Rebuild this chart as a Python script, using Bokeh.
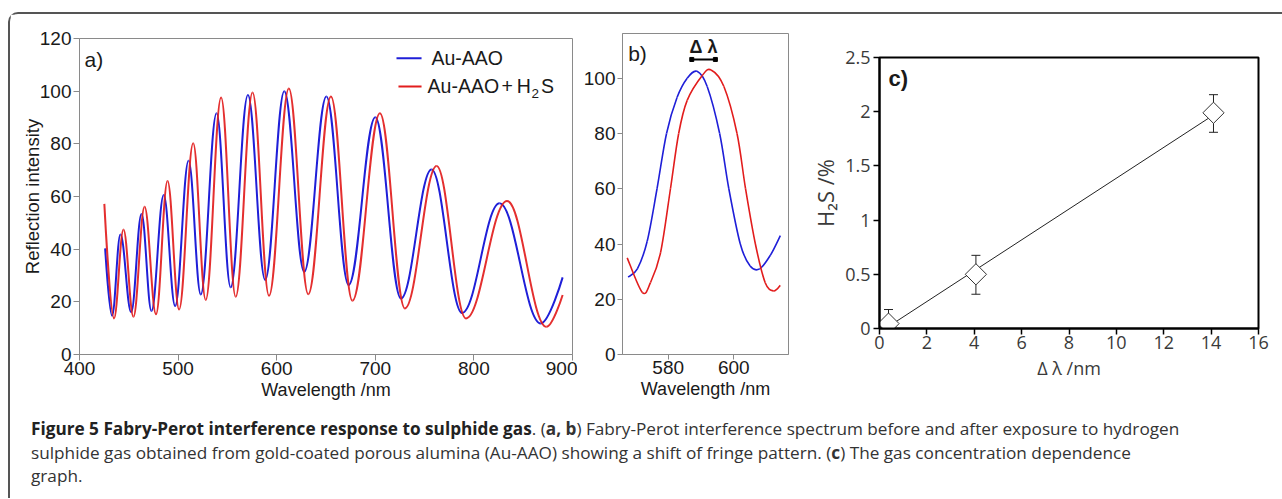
import numpy as np
from bokeh.plotting import figure
from bokeh.layouts import row, column
from bokeh.models import Range1d, FixedTicker, Label, Whisker, TeeHead, ColumnDataSource, Div
from bokeh.embed import file_html
from bokeh.resources import INLINE

# ---------------- data ----------------
# Panel a: turning points (plus first/last sample) of each spectrum
a_blue_nm = [426, 433, 441.5, 452.4, 462.9, 473, 485.4, 497, 510.6, 523, 539, 553.3, 570.8,
             588.3, 607.7, 627.9, 650.4, 672.9, 700, 726, 757, 788, 826, 867.8, 890]
a_blue_int = [40.3, 14.7, 45.6, 16.0, 53.4, 16.5, 60.6, 18.4, 73.6, 22.8, 91.6, 25.5, 98.5,
              28.3, 100.0, 31.4, 98.0, 26.4, 90.1, 21.3, 70.3, 15.8, 57.4, 11.8, 29.3]
a_red_nm = [425.2, 435, 444.6, 454.7, 466, 477.6, 489.3, 501, 515.3, 528, 543.6, 558.4, 575.5,
            592.2, 612.3, 632, 655, 676.8, 704.7, 730, 762.2, 792, 833.6, 873.6, 890]
a_red_int = [57.2, 13.7, 47.5, 14.3, 56.1, 15.3, 65.9, 17.1, 80.2, 20.7, 97.6, 21.9, 99.5,
             22.3, 101.0, 22.9, 98.0, 20.4, 91.6, 17.5, 71.6, 13.7, 58.3, 10.5, 22.6]
a_xticks = [400, 500, 600, 700, 800, 900]
a_yticks = [0, 20, 40, 60, 80, 100, 120]

# Panel b: zoom on one fringe
b_blue_nm = [567.8, 570.6, 573.6, 576.6, 579.5, 582.7, 585.8, 588.8, 591.9, 595.7, 598.5,
             602.0, 605.0, 607.9, 611.2, 614.2]
b_blue_int = [28, 31, 41, 60, 80, 93, 100, 102.5, 97, 80, 60, 40, 32, 31, 36, 43]
b_red_nm = [567.5, 572.1, 574.6, 577.7, 580.7, 583.2, 585.8, 590.4, 593.1, 597.0, 601.0,
            603.6, 606.6, 609.6, 612.2, 614.2]
b_red_int = [35, 22.5, 26, 37, 60, 80, 92, 101, 103, 97, 80, 60, 40, 26, 23, 25]
b_shift_bar_nm = [587.2, 594.4]
b_shift_bar_int = 106.8
b_xticks = [580, 600]
b_yticks = [0, 20, 40, 60, 80, 100]

# Panel c: concentration vs shift
c_shift = [0.38, 4.07, 14.1]
c_conc = [0.045, 0.50, 1.99]
c_err_low = [0.0, 0.316, 1.81]
c_err_high = [0.175, 0.675, 2.157]
c_fit_slope = 0.1422
c_fit_intercept = -0.0356
c_xticks = [0, 2, 4, 6, 8, 10, 12, 14, 16]
c_yticks = [0, 0.5, 1, 1.5, 2, 2.5]
c_ytick_labels = ["0", "0.5", "1", "1.5", "2", "2.5"]

BLUE = "#1f1fd8"
RED = "#e21d1d"
ARIAL = "Liberation Sans"


def style_axes(p, font, size, color, line_color, tick_out, line_w=1):
    for ax in (p.xaxis, p.yaxis):
        ax.axis_line_color = line_color
        ax.axis_line_width = line_w
        ax.major_tick_line_color = line_color
        ax.major_tick_line_width = line_w if line_w < 2 else 1.5
        ax.major_tick_out = tick_out
        ax.major_tick_in = 0
        ax.minor_tick_line_color = None
        ax.major_label_text_font = font
        ax.major_label_text_font_size = size
        ax.major_label_text_color = color
        ax.axis_label_text_font = font
        ax.axis_label_text_font_style = "normal"
        ax.axis_label_text_color = color
    p.grid.visible = False
    p.background_fill_color = "white"
    p.border_fill_color = "white"


def extrema_segments(xs, ys, k=0.38):
    """Bezier pieces between turning points (flat tangents at the turning points)."""
    x = np.asarray(xs, float)
    y = np.asarray(ys, float)
    x0, x1, y0, y1 = x[:-1], x[1:], y[:-1], y[1:]
    dx = x1 - x0
    cx0 = x0 + dx * k
    cy0 = y0.copy()
    cx1 = x1 - dx * k
    cy1 = y1.copy()
    cx0[0], cy0[0] = x0[0], y0[0]
    cx1[-1], cy1[-1] = x1[-1], y1[-1]
    return dict(x0=x0, y0=y0, x1=x1, y1=y1, cx0=cx0, cy0=cy0, cx1=cx1, cy1=cy1)


def through_segments(xs, ys):
    """Bezier pieces passing through every read point (Catmull-Rom tangents)."""
    x = np.asarray(xs, float)
    y = np.asarray(ys, float)
    xp = np.concatenate([[x[0]], x, [x[-1]]])
    yp = np.concatenate([[y[0]], y, [y[-1]]])
    n = len(x) - 1
    cx0 = x[:-1] + (xp[2:n + 2] - xp[0:n]) / 6
    cy0 = y[:-1] + (yp[2:n + 2] - yp[0:n]) / 6
    cx1 = x[1:] - (xp[3:n + 3] - xp[1:n + 1]) / 6
    cy1 = y[1:] - (yp[3:n + 3] - yp[1:n + 1]) / 6
    return dict(x0=x[:-1], y0=y[:-1], x1=x[1:], y1=y[1:], cx0=cx0, cy0=cy0, cx1=cx1, cy1=cy1)


BZ = dict(x0="x0", y0="y0", x1="x1", y1="y1", cx0="cx0", cy0="cy0", cx1="cx1", cy1="cy1")

# ---------------- panel a ----------------
pa = figure(width=567, height=394, x_range=Range1d(400, 900), y_range=Range1d(0, 120),
            output_backend="svg", toolbar_location=None,
            min_border_left=69, min_border_right=5, min_border_top=24, min_border_bottom=54)
style_axes(pa, ARIAL, "19px", "#1a1a1a", "#8a8a8a", 6)
pa.outline_line_color = "#8a8a8a"
pa.outline_line_width = 1
pa.xaxis.ticker = FixedTicker(ticks=a_xticks, minor_ticks=[])
pa.yaxis.ticker = FixedTicker(ticks=a_yticks, minor_ticks=[])
pa.xaxis.axis_label = "Wavelength /nm"
pa.yaxis.axis_label = "Reflection intensity"
pa.xaxis.axis_label_text_font_size = "18px"
pa.yaxis.axis_label_text_font_size = "18.5px"
pa.xaxis.major_label_standoff = 1
pa.yaxis.major_label_standoff = 2
pa.xaxis.axis_label_standoff = 2
pa.yaxis.axis_label_standoff = -6

pa.bezier(source=ColumnDataSource(extrema_segments(a_blue_nm, a_blue_int)), **BZ,
          line_color=BLUE, line_width=2)
pa.bezier(source=ColumnDataSource(extrema_segments(a_red_nm, a_red_int)), **BZ,
          line_color=RED, line_width=2, line_alpha=0.92)

# legend (drawn by hand so the subscript can be shown)
pa.line([721.5, 746.9], [112.5, 112.5], line_color=BLUE, line_width=2)
pa.line([723.5, 746.9], [101.8, 101.8], line_color=RED, line_width=2)
leg = dict(text_font=ARIAL, text_font_size="19.5px", text_color="#1a1a1a",
           text_baseline="middle", text_align="left")
pa.add_layout(Label(x=757, y=112.6, text="Au-AAO", **leg))
pa.add_layout(Label(x=753, y=101.8, text="Au-AAO", **leg))
pa.add_layout(Label(x=828.0, y=101.8, text="+", **leg))
pa.add_layout(Label(x=843.5, y=101.8, text="H", **leg))
pa.add_layout(Label(x=858.5, y=99.0, text="2", text_font=ARIAL, text_font_size="13.5px",
                    text_color="#1a1a1a", text_baseline="middle", text_align="left"))
pa.add_layout(Label(x=868.0, y=101.8, text="S", **leg))
pa.add_layout(Label(x=405.1, y=112.2, text="a)", text_font=ARIAL, text_font_size="21px",
                    text_color="#1a1a1a", text_baseline="middle", text_align="left"))

# ---------------- panel b ----------------
pb = figure(width=223, height=394, x_range=Range1d(566.07, 616.7), y_range=Range1d(0, 116.2),
            output_backend="svg", toolbar_location=None,
            min_border_left=45, min_border_right=12, min_border_top=19, min_border_bottom=54)
style_axes(pb, ARIAL, "19px", "#1a1a1a", "#8a8a8a", 5)
pb.outline_line_color = "#8a8a8a"
pb.outline_line_width = 1
pb.xaxis.ticker = FixedTicker(ticks=b_xticks, minor_ticks=[])
pb.yaxis.ticker = FixedTicker(ticks=b_yticks, minor_ticks=[])
pb.xaxis.axis_label = "Wavelength /nm"
pb.xaxis.axis_label_text_font_size = "18px"
pb.xaxis.major_label_standoff = 1
pb.yaxis.major_label_standoff = 2
pb.xaxis.axis_label_standoff = 2

pb.bezier(source=ColumnDataSource(through_segments(b_blue_nm, b_blue_int)), **BZ,
          line_color=BLUE, line_width=1.6)
pb.bezier(source=ColumnDataSource(through_segments(b_red_nm, b_red_int)), **BZ,
          line_color=RED, line_width=1.6)
pb.line(b_shift_bar_nm, [b_shift_bar_int] * 2, line_color="black", line_width=2)
pb.scatter(b_shift_bar_nm, [b_shift_bar_int] * 2, marker="square", size=4,
           fill_color="black", line_color="black")
pb.add_layout(Label(x=sum(b_shift_bar_nm) / 2, y=111.3, text="Δ λ", text_font=ARIAL,
                    text_font_style="bold", text_font_size="18px", text_color="#1a1a1a",
                    text_baseline="middle", text_align="center"))
pb.add_layout(Label(x=567.8, y=109.1, text="b)", text_font=ARIAL, text_font_size="21px",
                    text_color="#1a1a1a", text_baseline="middle", text_align="left"))

# ---------------- panel c ----------------
pc = figure(width=480, height=394, x_range=Range1d(0, 16), y_range=Range1d(0, 2.5),
            output_backend="svg", toolbar_location=None,
            min_border_left=79, min_border_right=22, min_border_top=43, min_border_bottom=80)
style_axes(pc, "Open Sans", "18px", "#3a3a3a", "black", 6, line_w=2)
pc.outline_line_color = "black"
pc.outline_line_width = 2
pc.xaxis.ticker = FixedTicker(ticks=c_xticks, minor_ticks=[])
pc.yaxis.ticker = FixedTicker(ticks=c_yticks, minor_ticks=[])
pc.yaxis.major_label_overrides = {t: s for t, s in zip(c_yticks, c_ytick_labels)}
pc.xaxis.major_label_standoff = 1
pc.yaxis.major_label_standoff = 3
pc.xaxis.axis_label = "Δ λ /nm"
pc.yaxis.axis_label = "H₂S /%"
pc.xaxis.axis_label_text_font_size = "18px"
pc.yaxis.axis_label_text_font_size = "22px"
pc.xaxis.axis_label_standoff = 4
pc.yaxis.axis_label_standoff = 2

x_start = -c_fit_intercept / c_fit_slope
fit_x = [x_start, max(c_shift)]
fit_y = [c_fit_slope * v + c_fit_intercept for v in fit_x]
pc.line(fit_x, fit_y, line_color="#222222", line_width=1)
pc.add_layout(Whisker(source=ColumnDataSource(dict(base=c_shift, upper=c_err_high, lower=c_err_low)),
                      base="base", upper="upper", lower="lower", line_color="#222222", line_width=1,
                      upper_head=TeeHead(size=9, line_color="#222222", line_width=1),
                      lower_head=TeeHead(size=9, line_color="#222222", line_width=1)))
pc.scatter(c_shift, c_conc, marker="square", angle=np.pi / 4, size=15,
           fill_color="white", line_color="#333333", line_width=1)
pc.add_layout(Label(x=0.38, y=2.306, text="c)", text_font=ARIAL, text_font_style="bold",
                    text_font_size="22px", text_color="#1a1a1a",
                    text_baseline="middle", text_align="left"))

# ---------------- caption ----------------
cap_html = (
    '<div style="padding:4px 0 0 16px; font-family:\'Open Sans\'; font-size:17.2px; '
    'line-height:23.5px; color:#333; white-space:nowrap;">'
    '<b style="color:#222">Figure 5 Fabry-Perot interference response to sulphide gas</b>. '
    '(<b>a, b</b>) Fabry-Perot interference spectrum before and after exposure to hydrogen<br>'
    'sulphide gas obtained from gold-coated porous alumina (Au-AAO) showing a shift of fringe '
    'pattern. (<b>c</b>) The gas concentration dependence<br>graph.</div>'
)
cap = Div(text=cap_html, width=1270, height=80)

panels = row(column(pa), column(pb), column(pc), spacing=0)
root = column(panels, cap, spacing=0, margin=(12, 0, 0, 8),
              styles={"border-top": "2px solid #555", "border-left": "2px solid #555",
                      "border-top-left-radius": "10px"})

open("out.html", "w").write(file_html(root, INLINE))
